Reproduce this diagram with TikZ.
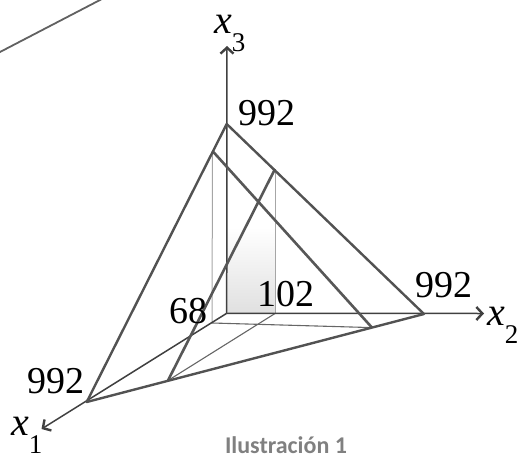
\documentclass[tikz,border=0pt]{standalone}
\usepackage{fontspec}
\setmainfont{Liberation Serif}
\newfontfamily\capfont{Carlito}
\usetikzlibrary{arrows.meta}
\newcommand{\axsub}[1]{\raisebox{-18pt}{\upshape\fontsize{27}{27}\selectfont #1}}
\begin{document}
\begin{tikzpicture}[x=1pt,y=1pt,
  axis/.style={line width=1.5pt, draw=black!75, -{Straight Barb[length=6pt,width=13pt,line width=2.4pt]}},
  edgeline/.style={line width=2.4pt, draw=black!68},
  planeline/.style={line width=2.6pt, draw=black!66},
  floorline/.style={line width=1.1pt, draw=black!60},
  vertline/.style={line width=1pt, draw=black!35},
  lab/.style={inner sep=0pt, font=\fontsize{38}{38}\selectfont},
  axlab/.style={inner sep=0pt, anchor=base west, font=\fontsize{40}{40}\selectfont\itshape},
]
\useasboundingbox (0,0) rectangle (521,459);
\clip (0,0) rectangle (521,459);
% points
\coordinate (O) at (226.7,145.7);
\coordinate (A) at (226.7,335);
\coordinate (B) at (424,145);
\coordinate (C) at (86.7,57);
\coordinate (T3) at (227,413);
\coordinate (T2) at (484,145.5);
\coordinate (T1) at (41.5,30);
\coordinate (P1) at (212,136);
\coordinate (P2) at (372,131.4);
\coordinate (P3) at (212.5,308);
\coordinate (Q1) at (275,145.5);
\coordinate (Q2) at (168,78.5);
\coordinate (Q3) at (275,290);
\coordinate (S1) at (-5,404.4);
\coordinate (S2) at (105,461.6);
% faint curve top-left
\draw[line width=1.8pt, draw=black!62] (S1) -- (S2);
% shaded area
\shade[top color=white, bottom color=black!12] (227.5,146.5) rectangle (274.5,232);
% thin verticals
\draw[vertline] (P3) -- (P1);
\draw[vertline] (Q3) -- (Q1);
% floor lines
\draw[floorline] (P1) -- (P2);
\draw[floorline] (Q1) -- (Q2);
% axes
\draw[axis] (O) -- (T3);
\draw[axis] (O) -- (T2);
\draw[axis] (O) -- (T1);
% plane lines
\draw[planeline] (P3) -- (P2);
\draw[planeline] (Q3) -- (Q2);
% big triangle
\draw[edgeline, line join=round] (A) -- (B) -- (C) -- cycle;
% labels
\node[lab] (l3) at (267,346) {992};
\node[lab] (l2) at (444,173.5) {992};
\node[lab] (l1) at (56,77.5) {992};
\node[lab] (l68) at (188.5,148) {68};
\node[lab] (l102) at (285.5,165) {102};
\node[axlab] (x3) at (214,425) {x\axsub{3}};
\node[axlab] (x2) at (487,134) {x\axsub{2}};
\node[axlab] (x1) at (11,24) {x\axsub{1}};
\node[inner sep=0pt, anchor=base, font=\capfont\bfseries\fontsize{24}{24}\selectfont, text=black!50] (cap) at (286,6) {Ilustración 1};
\end{tikzpicture}
\end{document}
